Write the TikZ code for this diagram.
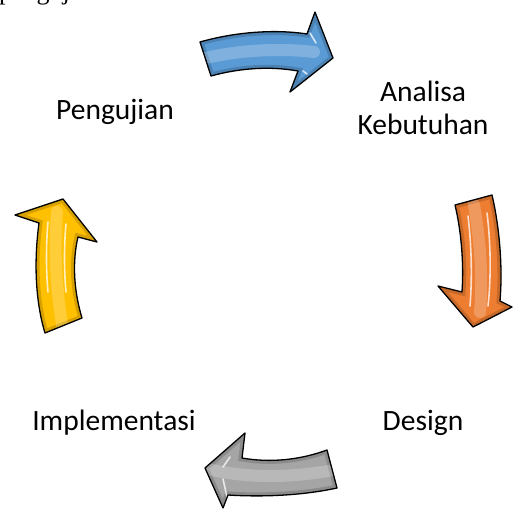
\documentclass[tikz,border=0pt]{standalone}
\usepackage{fontspec}
\setmainfont{Carlito}
\newfontfamily\serifcut{Liberation Serif}
\definecolor{arrowblue}{RGB}{91,155,213}
\definecolor{arroworange}{RGB}{237,125,49}
\definecolor{arrowgray}{RGB}{165,165,165}
\definecolor{arrowyellow}{RGB}{255,192,0}

% outlines of the four block arrows (x right, y down, 1 unit = 1pt)
\def\pathBlue{(200,42) .. controls (235,32) and (275,29) .. (307,34) -- (315,12) -- (333,58) -- (290,92) -- (298,71) .. controls (270,66) and (240,68) .. (211,76) -- cycle}
\def\pathOrange{(455,205) -- (492,195) .. controls (499,225) and (503,265) .. (500,301) -- (512,307) -- (473,327) -- (438,286) -- (462,292) .. controls (464,262) and (461,230) .. (455,205) -- cycle}
\def\pathYellow{(15,215) -- (63,199) -- (97,242) -- (78,237) .. controls (72,262) and (74,292) .. (82,318) -- (45,333) .. controls (35,300) and (34,260) .. (39,223) -- cycle}
\def\pathGray{(205,468) -- (245,433) -- (242,458) .. controls (270,463) and (300,460) .. (327,450) -- (337,488) .. controls (300,496) and (260,497) .. (228,495) -- (223,508) -- cycle}

% glossy block arrow: #1 outline, #2 colour, #3 centre line of the shaft, #4 highlight streaks
\newcommand\glossyarrow[4]{%
  \fill[#2] #1;
  \begin{scope}
    \clip #1;
    \draw[#2!55!black, opacity=.35, line width=7pt] #1;
    \draw[white, opacity=.22, line width=12pt, line cap=round] #3;
    \draw[white, opacity=.75, line width=1.6pt, line cap=round] #4;
  \end{scope}
  \draw[arrowline] #1;
}

\tikzset{
  arrowline/.style={black, line width=1.3pt, line join=round},
  stagelabel/.style={font=\fontsize{29.5}{33}\selectfont, inner sep=0pt, anchor=base, align=center},
}

\begin{document}
\begin{tikzpicture}[x=1pt, y=-1pt]
\useasboundingbox (0,0) rectangle (513,510);

% line of text running off the top edge
\begin{scope}
  \clip (0,0) rectangle (513,510);
  \node[font=\serifcut\fontsize{26}{30}\selectfont, inner sep=0pt, anchor=base west] (cut) at (-1,-0.5) {pengujian};
\end{scope}

% the four stage arrows
\glossyarrow{\pathBlue}{arrowblue}
  {(206,58) .. controls (240,50) and (280,48) .. (314,52)}
  {(310,33) -- (316,43) (303,71) -- (307,74)}
\glossyarrow{\pathOrange}{arroworange}
  {(474,205) .. controls (480,240) and (483,275) .. (480,312)}
  {(468,216) .. controls (472,250) and (472,280) .. (470,306) (487,213) .. controls (491,245) and (491,280) .. (488,306)}
\glossyarrow{\pathYellow}{arrowyellow}
  {(57,212) .. controls (54,250) and (56,290) .. (63,330)}
  {(48,222) .. controls (46,245) and (46,270) .. (48,292) (66,224) .. controls (64,245) and (64,270) .. (66,292)}
\glossyarrow{\pathGray}{arrowgray}
  {(212,470) .. controls (250,478) and (290,478) .. (334,470)}
  {(230,457) -- (223,467) (223,479) -- (227,497)}

% stage labels
\node[stagelabel] (uji) at (115,120) {Pengujian};
\node[stagelabel] (analisa) at (423,135) {Analisa\\Kebutuhan};
\node[stagelabel] (impl) at (114,430) {Implementasi};
\node[stagelabel] (design) at (423,430) {Design};
\end{tikzpicture}
\end{document}
